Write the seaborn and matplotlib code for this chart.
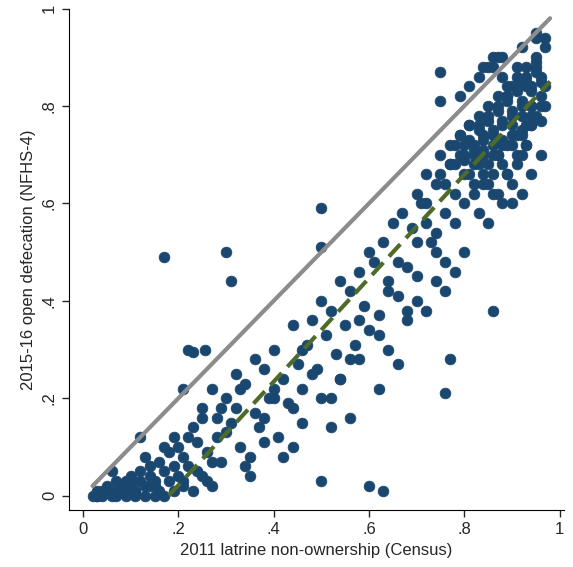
import matplotlib
matplotlib.use("Agg")
import matplotlib.pyplot as plt
import seaborn as sns
import numpy as np

# district values (approximate)
latrine_x = [
    0.02, 0.03, 0.03, 0.04, 0.05, 0.05, 0.06, 0.07, 0.08, 0.08, 0.09, 0.10, 0.10, 0.11, 0.12, 0.12,
    0.13, 0.14, 0.14, 0.15, 0.16, 0.16, 0.17, 0.18, 0.18, 0.19, 0.20, 0.20, 0.21, 0.22, 0.04, 0.06,
    0.09, 0.11, 0.13, 0.15, 0.17, 0.19, 0.21, 0.23, 0.24, 0.25, 0.26, 0.27, 0.28, 0.29, 0.30, 0.31,
    0.32, 0.33, 0.22, 0.24, 0.26, 0.28, 0.30, 0.32, 0.34, 0.35, 0.36, 0.37, 0.38, 0.39, 0.40, 0.41,
    0.42, 0.43, 0.44, 0.45, 0.46, 0.47, 0.48, 0.49, 0.34, 0.36, 0.38, 0.40, 0.42, 0.44, 0.46, 0.48,
    0.50, 0.51, 0.52, 0.53, 0.54, 0.55, 0.56, 0.57, 0.58, 0.59, 0.60, 0.50, 0.52, 0.54, 0.56, 0.58,
    0.60, 0.61, 0.62, 0.63, 0.64, 0.65, 0.66, 0.67, 0.68, 0.69, 0.70, 0.62, 0.64, 0.66, 0.68, 0.70,
    0.71, 0.72, 0.73, 0.74, 0.75, 0.76, 0.77, 0.78, 0.70, 0.72, 0.74, 0.76, 0.78, 0.79, 0.80, 0.81,
    0.82, 0.83, 0.84, 0.85, 0.86, 0.87, 0.88, 0.89, 0.90, 0.91, 0.92, 0.93, 0.94, 0.95, 0.96, 0.97,
    0.78, 0.80, 0.82, 0.84, 0.86, 0.88, 0.90, 0.92, 0.94, 0.96, 0.79, 0.81, 0.83, 0.85, 0.87, 0.89,
    0.91, 0.93, 0.95, 0.97, 0.80, 0.82, 0.84, 0.86, 0.88, 0.90, 0.92, 0.94, 0.96, 0.76, 0.78, 0.80,
    0.82, 0.84, 0.86, 0.88, 0.90, 0.92, 0.94, 0.83, 0.85, 0.87, 0.89, 0.91, 0.93, 0.95, 0.86, 0.88,
    0.90, 0.92, 0.94, 0.72, 0.74, 0.76, 0.78, 0.80, 0.68, 0.70, 0.72, 0.74, 0.66, 0.64, 0.62, 0.58,
    0.56, 0.54, 0.52, 0.46, 0.44, 0.40, 0.38, 0.35, 0.33, 0.29, 0.27, 0.25,
    # denser upper cluster
    0.81, 0.82, 0.83, 0.84, 0.85, 0.86, 0.87, 0.88, 0.89, 0.90, 0.91, 0.92, 0.93, 0.94, 0.95, 0.96,
    0.80, 0.82, 0.84, 0.86, 0.88, 0.90, 0.92, 0.94, 0.96, 0.85, 0.87, 0.89, 0.91, 0.93, 0.95, 0.97,
    0.77, 0.79, 0.81, 0.83, 0.85, 0.87, 0.89, 0.91, 0.93, 0.75, 0.77, 0.79, 0.81, 0.83, 0.85, 0.87,
    0.89, 0.91, 0.93, 0.95, 0.90, 0.92, 0.94, 0.96, 0.84, 0.86, 0.88,
    # denser low corner
    0.03, 0.05, 0.07, 0.09, 0.11, 0.13, 0.15, 0.17, 0.19, 0.21, 0.23, 0.25, 0.27, 0.06, 0.10, 0.14,
    # outliers
    0.17, 0.30, 0.31, 0.22, 0.23, 0.255, 0.21, 0.12, 0.50, 0.50, 0.75, 0.75, 0.60, 0.63, 0.76, 0.77,
    0.86, 0.50, 0.97, 0.95,
]
open_defecation_y = [
    0.00, 0.00, 0.01, 0.00, 0.02, 0.01, 0.00, 0.03, 0.01, 0.02, 0.00, 0.04, 0.02, 0.01, 0.05, 0.03,
    0.02, 0.06, 0.04, 0.03, 0.07, 0.01, 0.05, 0.09, 0.03, 0.06, 0.10, 0.04, 0.08, 0.12, 0.01, 0.05,
    0.03, 0.00, 0.08, 0.00, 0.10, 0.12, 0.02, 0.14, 0.05, 0.18, 0.09, 0.22, 0.12, 0.07, 0.20, 0.15,
    0.25, 0.10, 0.06, 0.11, 0.03, 0.16, 0.13, 0.18, 0.23, 0.08, 0.28, 0.14, 0.26, 0.20, 0.30, 0.12,
    0.24, 0.19, 0.35, 0.27, 0.22, 0.31, 0.36, 0.26, 0.06, 0.17, 0.11, 0.22, 0.08, 0.18, 0.15, 0.25,
    0.40, 0.33, 0.38, 0.29, 0.44, 0.35, 0.42, 0.31, 0.46, 0.39, 0.50, 0.20, 0.14, 0.24, 0.16, 0.28,
    0.34, 0.48, 0.37, 0.52, 0.44, 0.56, 0.41, 0.58, 0.47, 0.55, 0.62, 0.22, 0.30, 0.27, 0.36, 0.45,
    0.60, 0.66, 0.52, 0.64, 0.70, 0.58, 0.68, 0.72, 0.40, 0.38, 0.50, 0.48, 0.62, 0.74, 0.70, 0.76,
    0.72, 0.78, 0.70, 0.80, 0.74, 0.82, 0.76, 0.84, 0.78, 0.86, 0.80, 0.88, 0.84, 0.90, 0.86, 0.92,
    0.56, 0.60, 0.64, 0.66, 0.62, 0.68, 0.72, 0.70, 0.76, 0.80, 0.82, 0.84, 0.86, 0.88, 0.90, 0.82,
    0.88, 0.84, 0.88, 0.84, 0.66, 0.68, 0.74, 0.70, 0.72, 0.76, 0.78, 0.80, 0.82, 0.64, 0.68, 0.72,
    0.62, 0.64, 0.66, 0.60, 0.64, 0.74, 0.78, 0.58, 0.56, 0.62, 0.66, 0.70, 0.72, 0.94, 0.88, 0.90,
    0.84, 0.92, 0.80, 0.56, 0.44, 0.42, 0.46, 0.50, 0.38, 0.52, 0.60, 0.54, 0.48, 0.42, 0.33, 0.36,
    0.28, 0.24, 0.20, 0.30, 0.10, 0.20, 0.16, 0.04, 0.22, 0.18, 0.07, 0.16,
    0.73, 0.71, 0.75, 0.73, 0.77, 0.75, 0.79, 0.77, 0.81, 0.79, 0.83, 0.81, 0.85, 0.83, 0.87, 0.85,
    0.69, 0.70, 0.71, 0.72, 0.73, 0.74, 0.75, 0.76, 0.77, 0.68, 0.70, 0.72, 0.74, 0.76, 0.78, 0.80,
    0.68, 0.70, 0.66, 0.68, 0.64, 0.70, 0.66, 0.68, 0.72, 0.66, 0.72, 0.74, 0.76, 0.76, 0.78, 0.80,
    0.82, 0.84, 0.86, 0.89, 0.60, 0.62, 0.66, 0.70, 0.88, 0.90, 0.86,
    0.00, 0.01, 0.00, 0.02, 0.01, 0.00, 0.02, 0.00, 0.01, 0.03, 0.01, 0.04, 0.02, 0.01, 0.03, 0.02,
    0.49, 0.50, 0.44, 0.30, 0.295, 0.30, 0.22, 0.12, 0.59, 0.51, 0.87, 0.81, 0.02, 0.01, 0.21, 0.28,
    0.38, 0.03, 0.94, 0.95,
]

# fitted line as drawn in the reference
fit_start_x, fit_end_x = 0.18, 0.98
fit_intercept, fit_slope = -0.191, 1.0625

navy = "#1a476f"
sns.set_style("white")
plt.rcParams["font.family"] = ["Liberation Sans", "DejaVu Sans"]

fig, ax = plt.subplots(figsize=(5.73, 5.67), dpi=100)
fig.subplots_adjust(left=0.12, right=0.985, bottom=0.1, top=0.985)

sns.scatterplot(x=latrine_x, y=open_defecation_y, ax=ax, color=navy, s=60,
                edgecolor=navy, linewidth=0.5, zorder=2)

# 45-degree reference line
ax.plot([0.02, 0.98], [0.02, 0.98], color="#8c8c8c", lw=3, zorder=3)

fx = np.array([fit_start_x, fit_end_x])
ax.plot(fx, fit_intercept + fit_slope * fx, color="#4e6b2a", lw=3, ls=(0, (4, 2)), zorder=4)

ax.set_xlim(-0.03, 1.01)
ax.set_ylim(-0.03, 1.0)
ticks = [0, 0.2, 0.4, 0.6, 0.8, 1]
labels = ["0", ".2", ".4", ".6", ".8", "1"]
ax.set_xticks(ticks, labels)
ax.set_yticks(ticks, labels)
ax.tick_params(axis="y", labelrotation=90, length=5, width=1, left=True, labelsize=12)
ax.tick_params(axis="x", length=5, width=1, bottom=True, labelsize=12)
for lab in ax.get_yticklabels():
    lab.set_va("center")
for s in ["top", "right"]:
    ax.spines[s].set_visible(False)
for s in ["left", "bottom"]:
    ax.spines[s].set_color("black")
ax.set_xlabel("2011 latrine non-ownership (Census)", fontsize=12)
ax.set_ylabel("2015-16 open defecation (NFHS-4)", fontsize=12)

fig.savefig("out.png", dpi=100)
